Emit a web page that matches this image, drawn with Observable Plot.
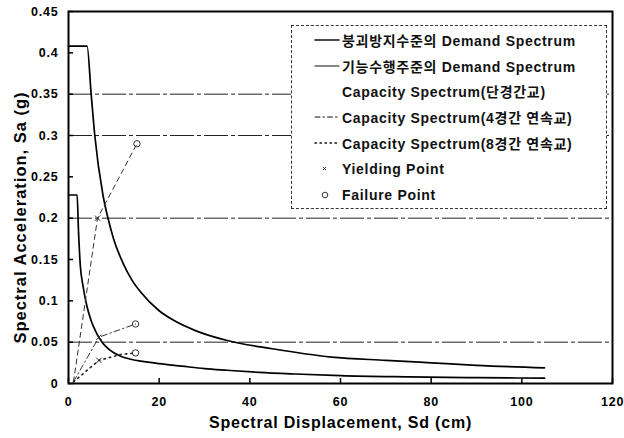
<!DOCTYPE html>
<html>
<head>
<meta charset="utf-8">
<script src="https://cdn.jsdelivr.net/npm/d3@7"></script>
<script src="https://cdn.jsdelivr.net/npm/@observablehq/plot@0.6"></script>
<style>
  html, body { margin: 0; padding: 0; background: #fff; }
  #wrap { position: relative; width: 624px; height: 438px; font-family: "Liberation Sans", Arial, sans-serif; }
  #legend { position: absolute; left: 291px; top: 25px; width: 316px; height: 184px; background: #fff;
            border: 1px dashed #333; box-sizing: border-box; padding-top: 1px; }
  .row { height: 25.8px; display: flex; align-items: center; font-size: 14px; font-weight: bold; color: #111; letter-spacing: 0.7px; }
  .row svg { width: 50px; height: 14px; flex: none; }
  .kr { font-family: "Liberation Sans", "Noto Sans CJK KR", sans-serif; font-weight: bold; }
  #wrap svg [aria-label="x-axis tick label"] text,
  #wrap svg [aria-label="y-axis tick label"] text { letter-spacing: 0.8px; }
</style>
</head>
<body>
<div id="wrap"></div>
<script>
// ---- data ----
const xTicks = [0, 20, 40, 60, 80, 100, 120];
const yTicks = [0, 0.05, 0.1, 0.15, 0.2, 0.25, 0.3, 0.35, 0.4, 0.45];
const gridLevels = [0.05, 0.2, 0.3, 0.35];
const xTitle = "Spectral Displacement, Sd (cm)";
const yTitle = "Spectral Acceleration, Sa (g)";

// 붕괴방지수준 Demand Spectrum
const collapseSd = [0, 4.1, 5.0, 5.8, 7.6, 8.8, 10, 12, 14, 16, 20, 23, 28, 35, 45, 58, 70, 80, 90, 105];
const collapseSa = [0.408, 0.408, 0.35, 0.30, 0.228, 0.198, 0.174, 0.146, 0.125, 0.110, 0.088, 0.077, 0.064, 0.052, 0.042, 0.032, 0.028, 0.025, 0.022, 0.019];

// 기능수행수준 Demand Spectrum
const serviceSd = [0, 1.9, 2.2, 2.6, 3.2, 4, 5, 6, 7.4, 9, 11.5, 14, 16, 20, 25, 30, 35, 42, 50, 60, 75, 90, 105];
const serviceSa = [0.228, 0.228, 0.185, 0.143, 0.118, 0.095, 0.076, 0.063, 0.05, 0.041, 0.033, 0.029, 0.027, 0.024, 0.021, 0.018, 0.016, 0.0135, 0.0115, 0.0095, 0.008, 0.007, 0.0065];

// Capacity spectra
const cap1Sd = [1.1, 6.4, 15.1];          // 단경간교
const cap1Sa = [0.002, 0.2, 0.29];
const cap4Sd = [1.1, 6.7, 14.8];          // 4경간 연속교
const cap4Sa = [0.002, 0.056, 0.072];
const cap8Sd = [1.1, 6.7, 11.5, 14.8];    // 8경간 연속교
const cap8Sa = [0.002, 0.028, 0.035, 0.037];

// Yielding and failure points
const yieldSd = [6.4, 6.7, 6.7];
const yieldSa = [0.2, 0.056, 0.028];
const failSd = [15.1, 14.8, 14.8];
const failSa = [0.29, 0.072, 0.037];

const legendLabels = [
  "붕괴방지수준의 Demand Spectrum",
  "기능수행주준의 Demand Spectrum",
  "Capacity Spectrum(단경간교)",
  "Capacity Spectrum(4경간 연속교)",
  "Capacity Spectrum(8경간 연속교)",
  "Yielding Point",
  "Failure Point"
];

// ---- build tables ----
const zip = (xs, ys) => xs.map((x, i) => ({x, y: ys[i]}));
const collapse = zip(collapseSd, collapseSa);
const service = zip(serviceSd, serviceSa);
const cap1 = zip(cap1Sd, cap1Sa);
const cap4 = zip(cap4Sd, cap4Sa);
const cap8 = zip(cap8Sd, cap8Sa);
const yields = zip(yieldSd, yieldSa);
const fails = zip(failSd, failSa);

const font = "'Liberation Sans', Arial, sans-serif";

const chart = Plot.plot({
  width: 624,
  height: 438,
  marginLeft: 68,
  marginRight: 12,
  marginTop: 11,
  marginBottom: 55,
  x: {domain: [0, 120]},
  y: {domain: [0, 0.45]},
  style: {fontFamily: font, fontSize: "13px", fontWeight: "bold", background: "#fff", color: "#000", overflow: "visible"},
  marks: [
    Plot.ruleY(gridLevels, {stroke: "#222", strokeWidth: 1, strokeDasharray: "24,3,4,3"}),
    Plot.line(collapse, {x: "x", y: "y", stroke: "#000", strokeWidth: 1.7, curve: "monotone-x"}),
    Plot.line(service, {x: "x", y: "y", stroke: "#000", strokeWidth: 1.7, curve: "monotone-x"}),
    Plot.line(cap1, {x: "x", y: "y", stroke: "#333", strokeWidth: 1, strokeDasharray: "5,4"}),
    Plot.line(cap4, {x: "x", y: "y", stroke: "#333", strokeWidth: 1, strokeDasharray: "6,3,1.5,3"}),
    Plot.line(cap8, {x: "x", y: "y", stroke: "#222", strokeWidth: 1.6, strokeDasharray: "1.5,4", strokeLinecap: "round"}),
    Plot.dot(yields, {x: "x", y: "y", symbol: "times", r: 2.5, stroke: "#333", strokeWidth: 1}),
    Plot.dot(fails, {x: "x", y: "y", r: 3.2, stroke: "#333", strokeWidth: 1, fill: "none"}),
    Plot.axisX({ticks: xTicks, tickSize: 0, tickPadding: 14, tickFormat: d => String(d), fontSize: 12.5, label: null}),
    Plot.text([xTitle], {frameAnchor: "bottom", dy: 44, fontSize: 16, fontWeight: "bold", fill: "#000", className: "xtitle"}),
    Plot.axisX({ticks: xTicks, tickSize: -5, text: null, stroke: "#000", strokeWidth: 1.5, label: null}),
    Plot.axisY({ticks: yTicks, tickSize: 0, tickPadding: 10, tickFormat: d => String(d), fontSize: 12.5, label: null}),
    Plot.text([yTitle], {frameAnchor: "left", textAnchor: "middle", rotate: -90, dx: -48, dy: 20, fontSize: 16.5, fontWeight: "bold", fill: "#000", className: "ytitle"}),
    Plot.axisY({ticks: yTicks, tickSize: -5, text: null, stroke: "#000", strokeWidth: 1.5, label: null}),
    Plot.frame({stroke: "#000", strokeWidth: 2})
  ]
});

const wrap = document.getElementById("wrap");
wrap.appendChild(chart);
chart.querySelectorAll(".xtitle text").forEach(t => t.style.letterSpacing = "0.8px");
chart.querySelectorAll(".ytitle text").forEach(t => t.style.letterSpacing = "1px");

// ---- legend overlay ----
const sampleSvg = (i) => {
  const ns = "http://www.w3.org/2000/svg";
  const svg = document.createElementNS(ns, "svg");
  const addLine = (dash, w) => {
    const l = document.createElementNS(ns, "line");
    l.setAttribute("x1", 23); l.setAttribute("x2", 47);
    l.setAttribute("y1", 7); l.setAttribute("y2", 7);
    l.setAttribute("stroke", "#111"); l.setAttribute("stroke-width", w);
    if (dash) l.setAttribute("stroke-dasharray", dash);
    l.setAttribute("stroke-linecap", "round");
    svg.appendChild(l);
  };
  if (i === 0) addLine(null, 1.6);
  if (i === 1) addLine(null, 1.2);
  if (i === 3) addLine("5,3,1.5,3", 1);
  if (i === 4) addLine("1.5,3.5", 1.4);
  if (i === 5) {
    const p = document.createElementNS(ns, "path");
    p.setAttribute("d", "M31,5 l3,3 M34,5 l-3,3");
    p.setAttribute("stroke", "#333"); p.setAttribute("stroke-width", 1);
    svg.appendChild(p);
  }
  if (i === 6) {
    const c = document.createElementNS(ns, "circle");
    c.setAttribute("cx", 33); c.setAttribute("cy", 7); c.setAttribute("r", 2.8);
    c.setAttribute("stroke", "#333"); c.setAttribute("fill", "none");
    svg.appendChild(c);
  }
  return svg;
};

const legend = document.createElement("div");
legend.id = "legend";
legendLabels.forEach((lab, i) => {
  const row = document.createElement("div");
  row.className = "row";
  row.appendChild(sampleSvg(i));
  const span = document.createElement("span");
  span.className = "kr";
  span.textContent = lab;
  row.appendChild(span);
  legend.appendChild(row);
});
wrap.appendChild(legend);
</script>
</body>
</html>
